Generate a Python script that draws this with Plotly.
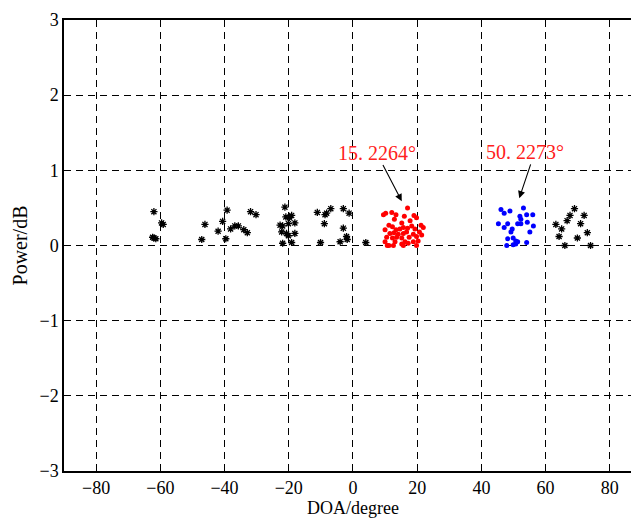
import plotly.graph_objects as go

# Spurious spectral peaks (black asterisks)
noise_doa = [-62.0, -62.4, -61.4, -59.6, -59.1, -62.0,
             -46.1, -47.1,
             -39.2, -40.6, -42.0, -39.6, -38.1, -36.8, -35.7, -34.0, -32.9, -31.9, -30.2,
             -21.2, -20.9, -19.1, -19.8, -22.7, -21.9, -22.2, -20.1, -18.1, -20.7, -20.1, -18.1, -21.9, -19.1,
             -11.1, -8.7, -8.2, -6.9, -8.9, -10.1,
             -3.0, -1.2, -3.0, -2.0, -1.8, -4.0,
             4.0,
             69.0, 67.6, 72.0, 66.7, 70.9, 63.2, 65.0, 64.2, 73.0, 69.9, 66.0, 74.0]
noise_pow = [0.45, 0.11, 0.09, 0.30, 0.28, 0.10,
             0.28, 0.08,
             0.47, 0.32, 0.19, 0.09, 0.22, 0.26, 0.26, 0.21, 0.17, 0.45, 0.41,
             0.51, 0.38, 0.40, 0.37, 0.27, 0.26, 0.18, 0.29, 0.30, 0.16, 0.13, 0.16, 0.03, 0.04,
             0.44, 0.41, 0.43, 0.49, 0.29, 0.04,
             0.49, 0.43, 0.23, 0.12, 0.08, 0.05,
             0.04,
             0.49, 0.40, 0.40, 0.33, 0.29, 0.28, 0.22, 0.12, 0.17, 0.10, 0.00, 0.00]

# Estimates around the first source (red)
src1_doa = [9.5, 10.2, 12.1, 13.4, 16.0, 17.0, 19.0, 12.9, 15.2, 17.8, 19.8, 21.2, 21.9,
            11.2, 12.3, 10.0, 13.4, 14.6, 15.7, 17.0, 18.3, 19.3, 20.7, 11.5, 12.8, 14.1,
            15.7, 16.7, 18.8, 10.5, 12.3, 13.6, 15.2, 17.5, 19.8, 21.4, 10.0, 13.1, 16.2,
            18.8, 20.3, 10.7, 12.6, 15.2, 17.2, 19.8, 15.7, 11.2]
src1_pow = [0.41, 0.43, 0.44, 0.41, 0.39, 0.50, 0.40, 0.35, 0.30, 0.33, 0.37, 0.27, 0.24,
            0.27, 0.25, 0.21, 0.21, 0.22, 0.24, 0.23, 0.26, 0.22, 0.18, 0.16, 0.17, 0.15,
            0.16, 0.18, 0.15, 0.11, 0.10, 0.11, 0.10, 0.11, 0.12, 0.14, 0.05, 0.05, 0.05,
            0.05, 0.06, 0.00, 0.00, 0.02, 0.03, 0.00, 0.00, 0.00]

# Estimates around the second source (blue)
src2_doa = [46.1, 47.1, 48.9, 53.1, 54.1, 52.0, 52.3, 56.0, 45.3, 48.2, 47.1, 51.3, 52.3,
            54.3, 56.2, 49.6, 49.2, 55.1, 48.2, 49.9, 50.7, 51.3, 54.1, 47.9, 49.9, 50.7]
src2_pow = [0.48, 0.43, 0.46, 0.50, 0.41, 0.39, 0.35, 0.41, 0.29, 0.29, 0.24, 0.29, 0.29,
            0.31, 0.26, 0.22, 0.18, 0.18, 0.09, 0.10, 0.06, 0.05, 0.04, 0.00, 0.01, 0.02]

# Labelled DOA estimates and where their arrows point
est_labels = ["15. 2264°", "50. 2273°"]
arrow_tip_x = [15.2, 51.8]
arrow_tip_y = [0.59, 0.63]
arrow_tail_x = [9.1, 55.5]
arrow_tail_y = [1.09, 1.10]
label_x = [7.6, 53.5]
label_y = [1.23, 1.25]

x_ticks = [-80, -60, -40, -20, 0, 20, 40, 60, 80]
y_ticks = [-3, -2, -1, 0, 1, 2, 3]

serif = "Liberation Serif"

fig = go.Figure()
fig.add_trace(go.Scatter(
    x=noise_doa, y=noise_pow, mode="markers",
    marker=dict(symbol="asterisk-open", size=6, color="black",
                line=dict(color="black", width=1.3)),
    showlegend=False))
fig.add_trace(go.Scatter(
    x=src1_doa, y=src1_pow, mode="markers",
    marker=dict(symbol="circle", size=5, color="#ff0000", line=dict(width=0)),
    showlegend=False))
fig.add_trace(go.Scatter(
    x=src2_doa, y=src2_pow, mode="markers",
    marker=dict(symbol="circle", size=5, color="#0000ff", line=dict(width=0)),
    showlegend=False))

for i in range(len(est_labels)):
    fig.add_annotation(
        x=arrow_tip_x[i], y=arrow_tip_y[i], ax=arrow_tail_x[i], ay=arrow_tail_y[i],
        xref="x", yref="y", axref="x", ayref="y",
        text="", showarrow=True, arrowhead=2, arrowsize=1.3, arrowwidth=1.1,
        arrowcolor="black")
    fig.add_annotation(
        x=label_x[i], y=label_y[i], xref="x", yref="y", text=est_labels[i],
        showarrow=False, font=dict(family=serif, size=20, color="#ff2020"))

# x-axis title placed just under the tick labels
fig.add_annotation(
    x=0, xref="x", y=0, yref="paper", yanchor="top", yshift=-25,
    text="DOA/degree", showarrow=False,
    font=dict(family=serif, size=18, color="black"))

grid_style = dict(showgrid=True, gridcolor="black", gridwidth=1, griddash="7px,5px",
                  zeroline=False, showline=True, linecolor="black", linewidth=1.5,
                  ticks="inside", ticklen=5, tickcolor="black", automargin=False,
                  tickfont=dict(family=serif, size=18, color="black"))

fig.update_xaxes(range=[-90, 86.6], tickvals=x_ticks, mirror=True, **grid_style)
fig.update_yaxes(range=[-3, 3], tickvals=y_ticks, mirror=False,
                 title=dict(text="Power/dB", font=dict(family=serif, size=20, color="black"),
                            standoff=6),
                 **grid_style)

fig.update_layout(width=631, height=518, margin=dict(l=64, r=0, t=20, b=47),
                  plot_bgcolor="white", paper_bgcolor="white")

fig.write_html("out.html")
